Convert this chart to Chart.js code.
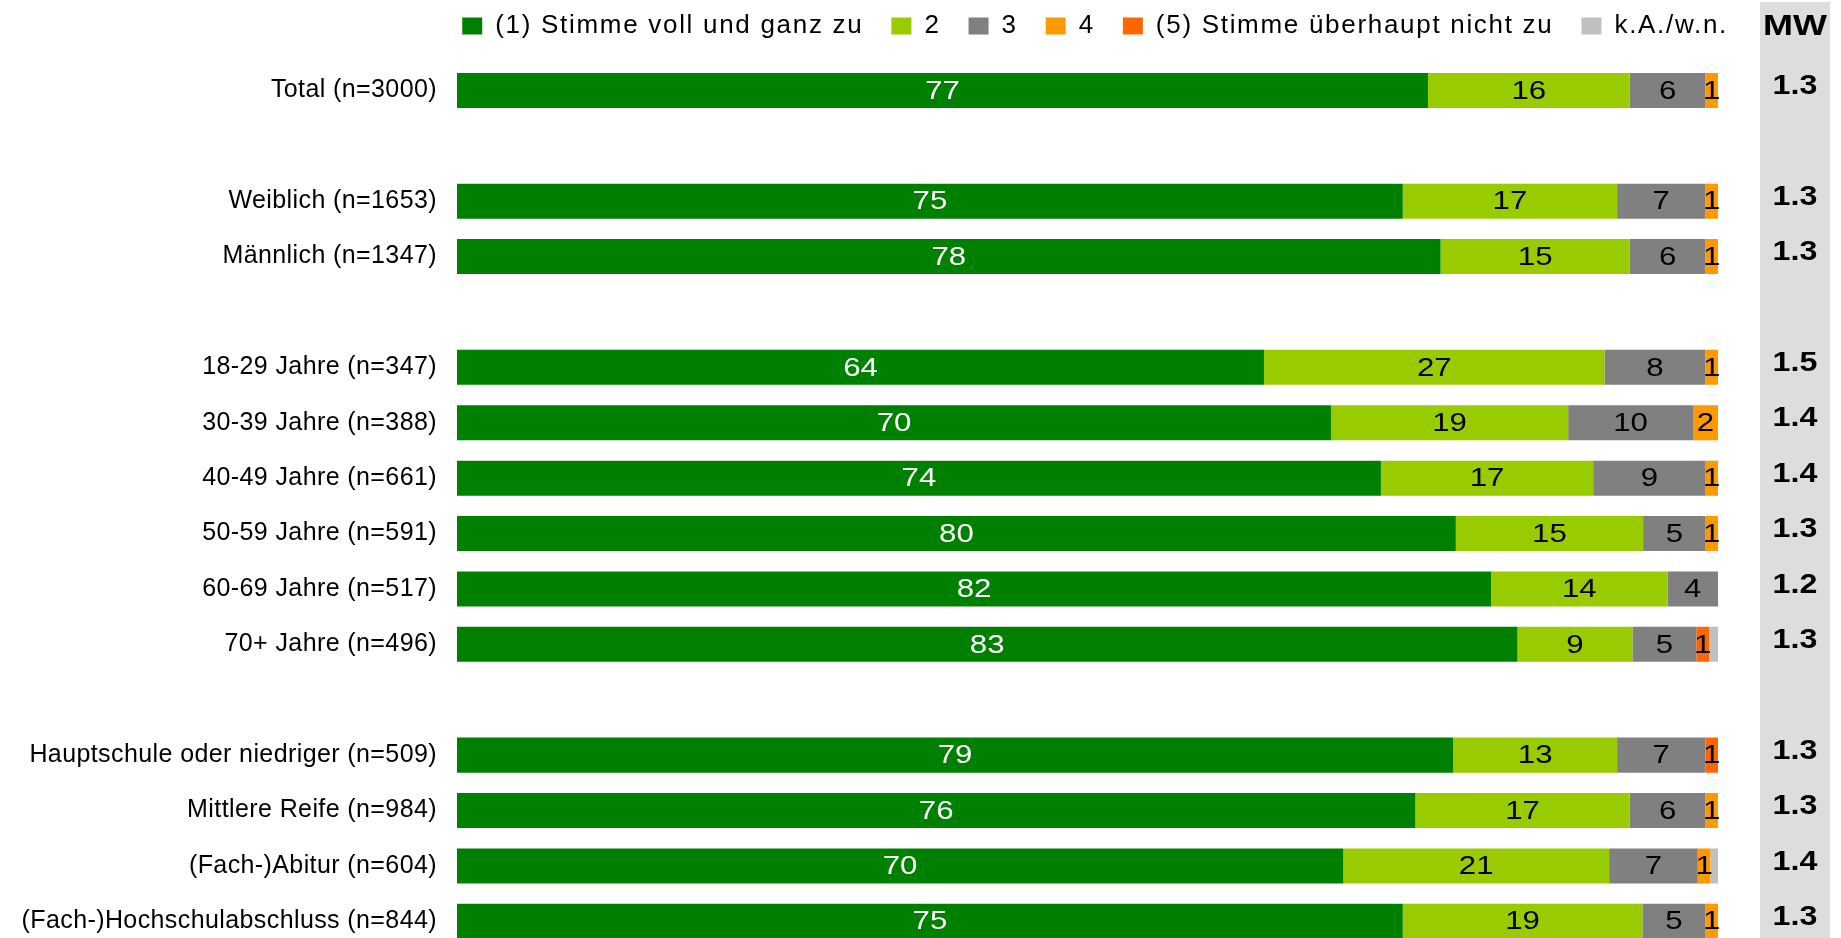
<!DOCTYPE html>
<html>
<head>
<meta charset="utf-8">
<script src="https://cdn.jsdelivr.net/npm/chart.js@4.4.1/dist/chart.umd.min.js"></script>
<style>
  html, body { margin: 0; padding: 0; background: #fff; overflow: hidden; }
  #wrap { position: relative; width: 1841px; height: 964px; margin-top: -15px; }
</style>
</head>
<body>
<div id="wrap"><canvas id="chart"></canvas></div>
<script>
// rows, "" = empty spacer row between the groups
const groups = [
  "Total (n=3000)", "",
  "Weiblich (n=1653)", "Männlich (n=1347)", "",
  "18-29 Jahre (n=347)", "30-39 Jahre (n=388)", "40-49 Jahre (n=661)",
  "50-59 Jahre (n=591)", "60-69 Jahre (n=517)", "70+ Jahre (n=496)", "",
  "Hauptschule oder niedriger (n=509)", "Mittlere Reife (n=984)",
  "(Fach-)Abitur (n=604)", "(Fach-)Hochschulabschluss (n=844)"
];
const seriesNames = ["(1) Stimme voll und ganz zu", "2", "3", "4", "(5) Stimme überhaupt nicht zu", "k.A./w.n."];
const seriesColors = ["#008000", "#99CC00", "#808080", "#FF9900", "#FF6600", "#C0C0C0"];

const stimme1 = [77, null, 75, 78, null, 64, 70, 74, 80, 82, 83, null, 79, 76, 70, 75];
const stimme2 = [16, null, 17, 15, null, 27, 19, 17, 15, 14, 9, null, 13, 17, 21, 19];
const stimme3 = [6, null, 7, 6, null, 8, 10, 9, 5, 4, 5, null, 7, 6, 7, 5];
const stimme4 = [1, null, 1, 1, null, 1, 2, 1, 1, 0, 0, null, 0, 1, 1, 1];
const stimme5 = [0, null, 0, 0, null, 0, 0, 0, 0, 0, 1, null, 1, 0, 0, 0];
const keineAngabe = [0, null, 0, 0, null, 0, 0, 0, 0, 0, 0.7, null, 0, 0, 0.6, 0];
const mittelwert = [1.3, null, 1.3, 1.3, null, 1.5, 1.4, 1.4, 1.3, 1.2, 1.3, null, 1.3, 1.3, 1.4, 1.3];

const series = [stimme1, stimme2, stimme3, stimme4, stimme5, keineAngabe];

// 100% stacked: each row is scaled to its own total
const rowSums = groups.map((g, j) =>
  series.reduce((s, arr) => s + (arr[j] || 0), 0)
);

const datasets = series.map((arr, i) => ({
  label: seriesNames[i],
  data: arr.map((v, j) => (v == null ? null : (v / rowSums[j]) * 100)),
  raw: arr,
  backgroundColor: seriesColors[i],
  borderWidth: 0,
  barPercentage: 0.632,
  categoryPercentage: 1.0,
}));

const FONT = '"Liberation Sans", Arial, sans-serif';

// letter spacing: legend wide, y labels slightly (y labels drawn after datasets)
const spacing = {
  id: "spacing",
  beforeLayout(chart) { chart.ctx.letterSpacing = "1.7px"; },
  afterLayout(chart) { chart.ctx.letterSpacing = "0px"; },
  beforeDraw(chart) { chart.ctx.letterSpacing = "1.7px"; },
  beforeDatasetsDraw(chart) { chart.ctx.letterSpacing = "0px"; },
  afterDatasetsDraw(chart) { chart.ctx.letterSpacing = "0.4px"; },
  afterDraw(chart) { chart.ctx.letterSpacing = "0px"; },
};

// numbers inside the segments
const segmentLabels = {
  id: "segmentLabels",
  afterDatasetsDraw(chart) {
    const ctx = chart.ctx;
    chart.data.datasets.forEach((ds, i) => {
      const meta = chart.getDatasetMeta(i);
      meta.data.forEach((bar, j) => {
        const raw = ds.raw[j];
        if (raw == null || raw < 1) return;
        const { x, base, y } = bar.getProps(["x", "base", "y"], true);
        ctx.save();
        ctx.letterSpacing = "0px";
        ctx.font = "26px " + FONT;
        ctx.textAlign = "center";
        ctx.textBaseline = "middle";
        ctx.fillStyle = i === 0 ? "#ffffff" : "#000000";
        ctx.translate((x + base) / 2, y + 1);
        ctx.scale(1.2, 1);
        ctx.fillText(String(raw), 0, 0);
        ctx.restore();
      });
    });
  },
};

// MW column at the right
const mwColumn = {
  id: "mwColumn",
  beforeDraw(chart) {
    const ctx = chart.ctx;
    const left = chart.chartArea.right + 42;
    ctx.save();
    ctx.fillStyle = "#DDDDDD";
    ctx.fillRect(left, 17, 70, chart.height);
    ctx.restore();
  },
  afterDraw(chart) {
    const ctx = chart.ctx;
    const cx = chart.chartArea.right + 77;
    const yScale = chart.scales.y;
    ctx.save();
    ctx.letterSpacing = "0px";
    ctx.fillStyle = "#000";
    ctx.textAlign = "center";
    ctx.textBaseline = "middle";
    ctx.save();
    ctx.font = "bold 30px " + FONT;
    ctx.translate(cx, 42);
    ctx.scale(1.2, 1);
    ctx.fillText("MW", 0, 0);
    ctx.restore();
    mittelwert.forEach((v, j) => {
      if (v == null) return;
      ctx.save();
      ctx.font = "bold 28px " + FONT;
      ctx.translate(cx, yScale.getPixelForValue(j) - 4);
      ctx.scale(1.15, 1);
      ctx.fillText(v.toFixed(1), 0, 0);
      ctx.restore();
    });
    ctx.restore();
  },
};

new Chart(document.getElementById("chart"), {
  type: "bar",
  data: { labels: groups, datasets },
  plugins: [mwColumn, segmentLabels, spacing],
  options: {
    indexAxis: "y",
    responsive: true,
    maintainAspectRatio: false,
    animation: false,
    layout: { padding: { left: 0, right: 85, top: 0, bottom: 0 } },
    scales: {
      x: {
        type: "linear",
        position: "top",
        stacked: true,
        min: 0,
        max: 100,
        ticks: { display: false },
        grid: { display: false, drawTicks: false },
        border: { display: false },
        afterFit: (s) => { s.height = 13.7; },
      },
      y: {
        stacked: true,
        ticks: {
          z: 1,
          autoSkip: false,
          color: "#000",
          padding: 20,
          font: { family: FONT, size: 25 },
        },
        grid: { display: false, drawTicks: false },
        border: { display: false },
        afterFit: (s) => {
          s.width = 457;
          s.paddingTop = 0;
          s.paddingBottom = 0;
        },
      },
      yRight: {
        type: "category",
        position: "right",
        ticks: { display: false },
        grid: { display: false, drawTicks: false },
        border: { display: false },
        afterFit: (s) => { s.width = 38; },
      },
    },
    plugins: {
      legend: {
        position: "top",
        align: "end",
        labels: {
          boxWidth: 20,
          boxHeight: 17,
          padding: 28,
          color: "#000",
          font: { family: FONT, size: 26 },
        },
      },
      tooltip: { enabled: false },
    },
  },
});
</script>
</body>
</html>
